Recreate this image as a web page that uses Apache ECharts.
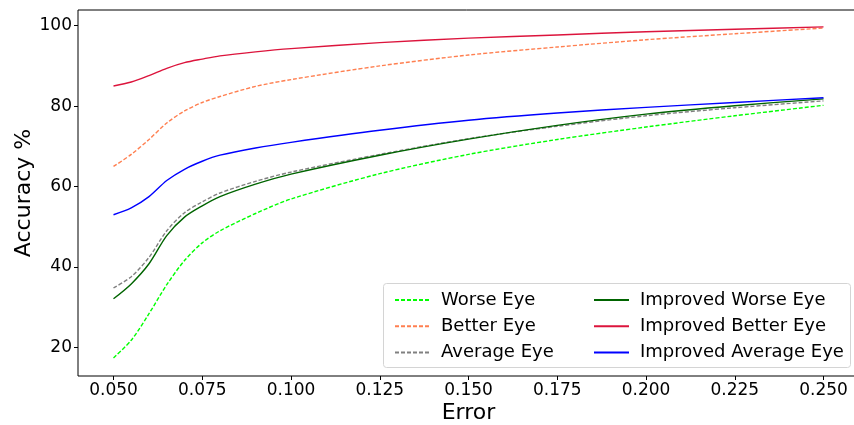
<!DOCTYPE html>
<html>
<head>
<meta charset="utf-8">
<script src="https://cdn.jsdelivr.net/npm/echarts@6/dist/echarts.min.js"></script>
<style>html,body{margin:0;padding:0;background:#fff}#c{width:854px;height:425px}</style>
</head>
<body>
<div id="c"></div>
<script>
// ---- data ----
const errors = [0.05, 0.055, 0.06, 0.065, 0.07, 0.075, 0.08, 0.09, 0.1, 0.125, 0.15, 0.175, 0.2, 0.225, 0.25];
const worseEye = [17.4, 21.8, 28.4, 35.6, 41.6, 46.0, 49.0, 53.3, 56.9, 63.2, 68.0, 71.7, 74.8, 77.6, 80.2];
const betterEye = [65.0, 68.0, 71.7, 75.8, 78.8, 80.9, 82.4, 84.9, 86.6, 90.0, 92.7, 94.7, 96.5, 98.0, 99.4];
const averageEye = [34.8, 37.6, 42.4, 49.0, 53.5, 56.2, 58.4, 61.3, 63.6, 68.0, 71.9, 75.0, 77.6, 79.6, 81.3];
const improvedWorse = [32.1, 35.8, 40.8, 47.8, 52.4, 55.2, 57.5, 60.6, 63.1, 67.8, 71.8, 75.2, 78.0, 80.1, 81.8];
const improvedBetter = [85.0, 86.0, 87.6, 89.4, 90.8, 91.7, 92.5, 93.5, 94.3, 95.8, 96.9, 97.7, 98.5, 99.1, 99.7];
const improvedAverage = [53.0, 54.7, 57.5, 61.5, 64.3, 66.3, 67.8, 69.6, 71.0, 74.0, 76.5, 78.3, 79.7, 80.9, 82.1];
const xTicks = [0.05, 0.075, 0.1, 0.125, 0.15, 0.175, 0.2, 0.225, 0.25];
const yTicks = [20, 40, 60, 80, 100];
const seriesNames = ['Worse Eye', 'Better Eye', 'Average Eye', 'Improved Worse Eye', 'Improved Better Eye', 'Improved Average Eye'];

const FONT = 'DejaVu Sans';
const pairs = arr => errors.map((x, i) => [x, arr[i]]);

function mk(name, arr, color, dashed) {
  return {
    name: name, type: 'line', data: pairs(arr), showSymbol: false, symbol: 'none',
    smooth: 0.3, silent: true,
    lineStyle: { color: color, width: 1.4, type: dashed ? [4, 2] : 'solid' },
    itemStyle: { color: color }
  };
}

const chart = echarts.init(document.getElementById('c'), null, { renderer: 'canvas' });
const legendCommon = {
  orient: 'vertical', itemWidth: 35, itemHeight: 12, itemGap: 8.3,
  itemStyle: { opacity: 0 },
  textStyle: { fontFamily: FONT, fontSize: 18, color: '#000', padding: [0, 0, 0, 6], lineHeight: 18 },
  selectedMode: false, z: 20
};
chart.setOption({
  animation: false,
  grid: { left: 78, top: 10, right: -5, bottom: 49, show: true, borderColor: '#000', borderWidth: 1, containLabel: false, outerBoundsMode: 'none' },
  xAxis: {
    type: 'value', min: 0.04, max: 0.26,
    name: 'Error', nameLocation: 'middle', nameGap: 26, nameMoveOverlap: false,
    nameTextStyle: { fontFamily: FONT, fontSize: 22, color: '#000' },
    axisLine: { show: false },
    splitLine: { show: false },
    axisTick: { show: true, length: 4, lineStyle: { color: '#000' }, customValues: xTicks },
    axisLabel: { fontFamily: FONT, fontSize: 17, color: '#000', margin: 6, customValues: xTicks, formatter: v => v.toFixed(3) }
  },
  yAxis: {
    type: 'value', min: 12.9, max: 103.9,
    name: 'Accuracy %', nameLocation: 'middle', nameGap: 43, nameRotate: 90, nameMoveOverlap: false,
    nameTextStyle: { fontFamily: FONT, fontSize: 22, color: '#000' },
    axisLine: { show: false },
    splitLine: { show: false },
    axisTick: { show: true, length: 4, lineStyle: { color: '#000' }, customValues: yTicks },
    axisLabel: { fontFamily: FONT, fontSize: 17, color: '#000', margin: 6, customValues: yTicks, formatter: v => String(v) }
  },
  legend: [
    Object.assign({ data: seriesNames.slice(0, 3), left: 389, top: 286 }, legendCommon),
    Object.assign({ data: seriesNames.slice(3), left: 588, top: 286 }, legendCommon)
  ],
  graphic: [{
    type: 'rect', shape: { x: 383.5, y: 283.5, width: 467, height: 84, r: 3 },
    style: { fill: 'rgba(255,255,255,0.8)', stroke: '#d4d4d4', lineWidth: 1 }, z: 10, silent: true
  }],
  series: [
    mk(seriesNames[0], worseEye, '#00ff00', true),
    mk(seriesNames[1], betterEye, '#ff7f50', true),
    mk(seriesNames[2], averageEye, '#808080', true),
    mk(seriesNames[3], improvedWorse, '#006400', false),
    mk(seriesNames[4], improvedBetter, '#dc143c', false),
    mk(seriesNames[5], improvedAverage, '#0000ff', false)
  ]
});
</script>
</body>
</html>
